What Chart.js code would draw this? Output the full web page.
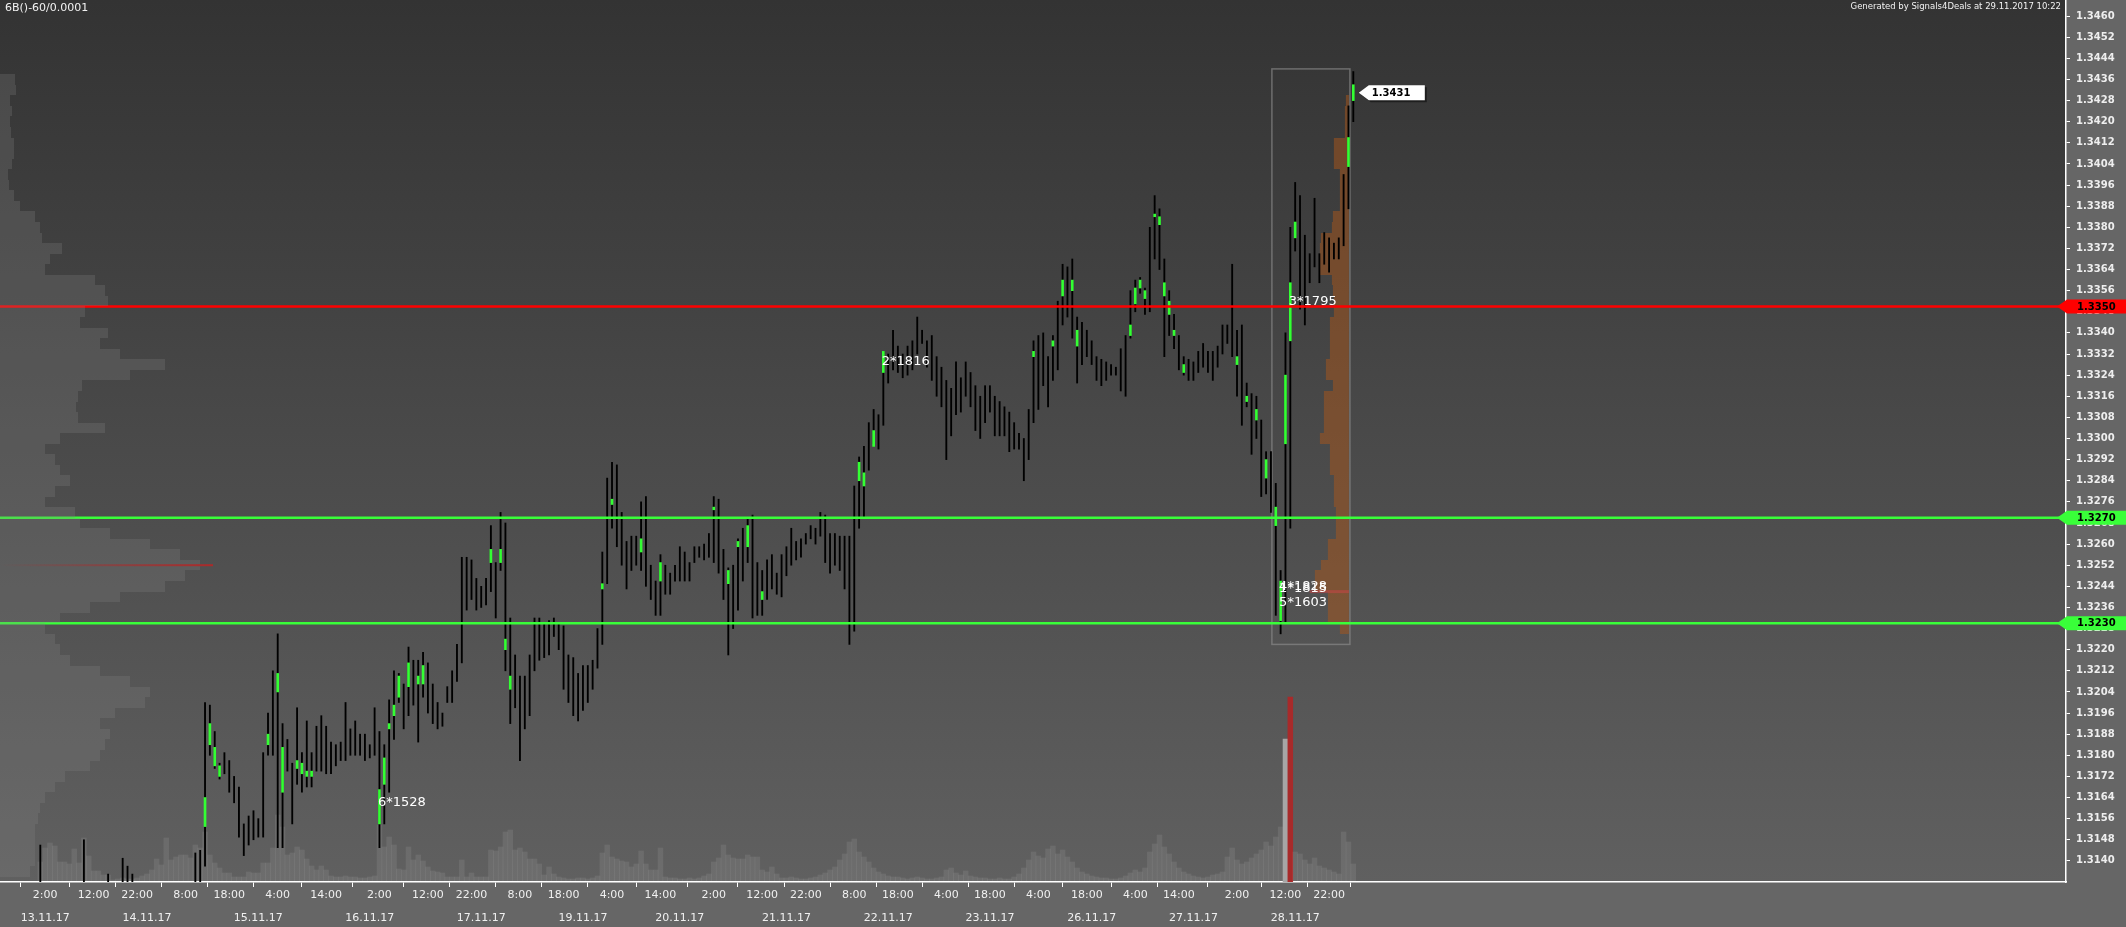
<!DOCTYPE html>
<html>
<head>
<meta charset="utf-8">
<script src="https://cdn.jsdelivr.net/npm/chart.js@4.4.0/dist/chart.umd.min.js"></script>
<style>
  html,body{margin:0;padding:0;background:#666;overflow:hidden}
  canvas{display:block}
</style>
</head>
<body>
<canvas id="chart" width="2126" height="927"></canvas>
<script>
// 6B hourly bars, 13.11.17 - 28.11.17 (bar index = hour bar)
const hi = [
  1.3146,null,null,null,null,null,null,null,null,1.3148,
  null,null,null,null,1.3135,null,null,1.3141,1.3138,1.3135,
  null,null,null,null,null,null,null,null,null,null,
  null,null,1.3143,1.3144,1.3200,1.3199,1.3189,1.3177,1.3181,1.3178,
  1.3172,1.3168,1.3154,1.3157,1.3159,1.3156,1.3181,1.3196,1.3212,1.3226,
  1.3192,1.3186,1.3177,1.3198,1.3181,1.3193,1.3181,1.3191,1.3195,1.3191,
  1.3185,1.3184,1.3185,1.3200,1.3190,1.3193,1.3188,1.3188,1.3184,1.3198,
  1.3189,1.3184,1.3201,1.3212,1.3211,1.3207,1.3221,1.3216,1.3216,1.3219,
  1.3215,1.3207,1.3200,1.3196,1.3206,1.3212,1.3222,1.3255,1.3255,1.3254,
  1.3247,1.3244,1.3247,1.3267,1.3253,1.3272,1.3268,1.3232,1.3218,1.3210,
  1.3210,1.3218,1.3232,1.3232,1.3230,1.3231,1.3232,1.3230,1.3229,1.3218,
  1.3217,1.3211,1.3214,1.3214,1.3216,1.3228,1.3257,1.3285,1.3291,1.3290,
  1.3272,1.3261,1.3263,1.3263,1.3276,1.3278,1.3252,1.3246,1.3256,1.3252,
  1.3249,1.3252,1.3259,1.3257,1.3253,1.3259,1.3259,1.3260,1.3264,1.3278,
  1.3277,1.3258,1.3251,1.3252,1.3262,1.3266,1.3270,1.3271,1.3253,1.3250,
  1.3254,1.3256,1.3249,1.3256,1.3259,1.3266,1.3261,1.3262,1.3264,1.3267,
  1.3266,1.3272,1.3271,1.3264,1.3264,1.3263,1.3263,1.3263,1.3282,1.3293,
  1.3297,1.3306,1.3311,1.3309,1.3333,1.3332,1.3341,1.3335,1.3332,1.3335,
  1.3337,1.3346,1.3341,1.3337,1.3339,1.3331,1.3327,1.3322,1.3319,1.3329,
  1.3323,1.3329,1.3325,1.3320,1.3316,1.3320,1.3320,1.3316,1.3314,1.3312,
  1.3310,1.3306,1.3302,1.3300,1.3311,1.3337,1.3339,1.3340,1.3331,1.3339,
  1.3352,1.3366,1.3365,1.3368,1.3346,1.3344,1.3341,1.3337,1.3331,1.3330,
  1.3329,1.3328,1.3327,1.3334,1.3339,1.3356,1.3360,1.3361,1.3357,1.3380,
  1.3392,1.3387,1.3368,1.3356,1.3347,1.3339,1.3331,1.3330,1.3329,1.3333,
  1.3336,1.3333,1.3333,1.3335,1.3343,1.3343,1.3366,1.3341,1.3343,1.3321,
  1.3317,1.3316,1.3307,1.3295,1.3295,1.3283,1.3250,1.3340,1.3380,1.3397,
  1.3392,1.3377,1.3370,1.3391,1.3370,1.3378,1.3376,1.3374,1.3376,1.3400,
  1.3426,1.3439
];
const lo = [
  1.3128,null,null,null,null,null,null,null,null,1.3128,
  null,null,null,null,1.3128,null,null,1.3128,1.3128,1.3128,
  null,null,null,null,null,null,null,null,null,null,
  null,null,1.3128,1.3128,1.3138,1.3180,1.3175,1.3171,1.3173,1.3166,
  1.3162,1.3149,1.3142,1.3146,1.3148,1.3149,1.3149,1.3180,1.3180,1.3145,
  1.3145,1.3174,1.3154,1.3169,1.3166,1.3168,1.3168,1.3174,1.3174,1.3173,
  1.3173,1.3176,1.3178,1.3178,1.3180,1.3180,1.3180,1.3178,1.3179,1.3180,
  1.3145,1.3154,1.3166,1.3186,1.3200,1.3190,1.3195,1.3199,1.3185,1.3202,
  1.3196,1.3192,1.3190,1.3191,1.3200,1.3200,1.3208,1.3215,1.3235,1.3239,
  1.3235,1.3236,1.3237,1.3242,1.3232,1.3250,1.3212,1.3192,1.3198,1.3178,
  1.3190,1.3195,1.3212,1.3216,1.3217,1.3218,1.3225,1.3220,1.3205,1.3200,
  1.3195,1.3193,1.3197,1.3200,1.3205,1.3213,1.3222,1.3245,1.3266,1.3259,
  1.3252,1.3243,1.3250,1.3252,1.3250,1.3244,1.3239,1.3233,1.3233,1.3241,
  1.3241,1.3246,1.3246,1.3246,1.3246,1.3253,1.3255,1.3254,1.3255,1.3253,
  1.3249,1.3239,1.3218,1.3228,1.3235,1.3246,1.3253,1.3232,1.3233,1.3233,
  1.3239,1.3243,1.3241,1.3240,1.3248,1.3252,1.3254,1.3255,1.3260,1.3262,
  1.3260,1.3263,1.3253,1.3249,1.3252,1.3250,1.3243,1.3222,1.3227,1.3266,
  1.3270,1.3288,1.3298,1.3296,1.3305,1.3321,1.3326,1.3325,1.3323,1.3324,
  1.3326,1.3332,1.3336,1.3327,1.3322,1.3316,1.3312,1.3292,1.3301,1.3309,
  1.3310,1.3316,1.3312,1.3303,1.3300,1.3306,1.3310,1.3301,1.3301,1.3301,
  1.3295,1.3296,1.3296,1.3284,1.3292,1.3306,1.3311,1.3320,1.3312,1.3322,
  1.3326,1.3343,1.3346,1.3338,1.3321,1.3328,1.3331,1.3328,1.3322,1.3320,
  1.3322,1.3324,1.3324,1.3318,1.3316,1.3338,1.3348,1.3355,1.3347,1.3348,
  1.3368,1.3364,1.3331,1.3339,1.3334,1.3326,1.3324,1.3322,1.3322,1.3325,
  1.3327,1.3325,1.3322,1.3327,1.3332,1.3336,1.3331,1.3316,1.3305,1.3312,
  1.3294,1.3300,1.3278,1.3279,1.3272,1.3233,1.3226,1.3230,1.3266,1.3371,
  1.3349,1.3343,1.3359,1.3365,1.3359,1.3366,1.3363,1.3368,1.3368,1.3373,
  1.3387,1.3420
];
const vol = [
  1000,1700,1950,1800,1000,1000,900,1650,950,2200,
  1300,550,550,350,350,100,150,200,150,150,
  200,300,400,600,1150,850,2200,1100,1250,1350,
  1350,1200,1850,1700,2500,1350,950,700,450,450,
  250,250,250,500,450,450,950,950,1700,3350,
  2750,1350,1450,1750,1600,1150,800,600,800,600,
  300,250,250,300,250,250,200,200,250,300,
  2850,1750,2250,1850,650,600,1750,1100,1350,1050,
  750,550,500,450,250,250,250,1100,250,450,
  250,250,250,1600,1550,1750,2500,2600,1600,1700,
  1500,1150,1150,900,350,750,400,250,200,150,
  150,200,200,150,200,300,1450,1850,1250,1150,
  1050,1000,750,900,1550,900,600,600,1700,250,
  200,200,150,150,200,150,200,300,400,1000,
  1200,1850,1350,1200,1150,1150,1350,1250,1250,600,
  500,750,400,200,200,250,200,150,150,200,
  250,350,450,600,750,1100,1400,2000,2150,1500,
  1250,1000,700,500,400,300,250,250,200,150,
  200,250,200,150,150,200,250,600,700,450,
  350,550,300,250,200,200,150,150,200,150,
  150,250,400,700,1100,1500,1300,1200,1650,1800,
  1400,1600,1250,1000,700,500,400,300,250,200,
  200,150,150,200,300,450,600,500,700,1500,
  1900,2350,1750,1400,1000,700,500,400,300,250,
  200,250,350,400,500,1250,1700,1100,900,1000,
  1200,1400,1600,2000,1800,2250,2750,7150,9250,1500,
  1400,1100,900,1200,800,700,600,500,400,2500,
  2000,900
];
const maxVolBar = 258, bigVolBar = 257;

// green cluster marks inside bars
const gIdx = [34,35,36,37,47,49,50,53,54,55,56,70,71,72,73,74,76,78,79,93,95,96,97,
  116,118,124,128,139,142,144,146,149,169,170,172,174,205,209,211,213,214,
  225,226,227,228,230,231,232,233,234,236,247,249,251,253,255,256,257,258,259,270,271];
const gHi = [1.3164,1.3192,1.3183,1.3176,1.3188,1.3211,1.3183,1.3178,1.3177,1.3174,1.3174,1.3167,1.3179,1.3192,1.3199,1.3210,1.3215,1.3210,1.3214,1.3258,1.3258,1.3224,1.3210,
  1.3245,1.3277,1.3262,1.3253,1.3274,1.3250,1.3261,1.3267,1.3242,1.3291,1.3287,1.3303,1.3333,1.3333,1.3337,1.3360,1.3360,1.3341,
  1.3343,1.3357,1.3360,1.3356,1.3385,1.3384,1.3359,1.3352,1.3341,1.3328,1.3331,1.3316,1.3311,1.3292,1.3274,1.3246,1.3324,1.3359,1.3382,1.3414,1.3434];
const gLo = [1.3153,1.3184,1.3176,1.3172,1.3184,1.3204,1.3166,1.3175,1.3173,1.3172,1.3172,1.3154,1.3169,1.3190,1.3195,1.3202,1.3206,1.3207,1.3207,1.3253,1.3253,1.3220,1.3205,
  1.3243,1.3275,1.3257,1.3246,1.3273,1.3245,1.3259,1.3259,1.3239,1.3284,1.3282,1.3297,1.3325,1.3331,1.3335,1.3354,1.3356,1.3335,
  1.3339,1.3351,1.3357,1.3353,1.3384,1.3381,1.3354,1.3347,1.3339,1.3325,1.3328,1.3314,1.3307,1.3285,1.3267,1.3231,1.3298,1.3337,1.3376,1.3403,1.3428];

// whole-period volume profile (left), rows of 0.0004
const profPrice = [1.3436,1.3432,1.3428,1.3424,1.3420,1.3416,1.3412,1.3408,1.3404,1.3400,1.3396,1.3392,1.3388,1.3384,1.3380,1.3376,
  1.3372,1.3368,1.3364,1.3360,1.3356,1.3352,1.3348,1.3344,1.3340,1.3336,1.3332,1.3328,1.3324,1.3320,1.3316,1.3312,1.3308,1.3304,
  1.3300,1.3296,1.3292,1.3288,1.3284,1.3280,1.3276,1.3272,1.3268,1.3264,1.3260,1.3256,1.3252,1.3248,1.3244,1.3240,1.3236,1.3232,
  1.3228,1.3224,1.3220,1.3216,1.3212,1.3208,1.3204,1.3200,1.3196,1.3192,1.3188,1.3184,1.3180,1.3176,1.3172,1.3168,1.3164,1.3160,
  1.3156,1.3152,1.3148,1.3144,1.3140,1.3136];
const profVol = [150,160,100,120,100,110,140,140,120,80,90,140,200,350,400,420,
  620,500,450,950,1050,1080,850,800,1080,1000,1200,1650,1300,820,780,760,780,1050,
  600,450,550,600,700,550,450,750,800,1100,1500,1800,2000,1850,1650,1200,900,600,
  450,550,600,700,1000,1300,1500,1450,1150,1000,1100,1050,1000,900,650,550,450,400,
  380,350,350,350,350,300];
const profPoc = 1.3252, profPocVol = 2130;

// last session profile (orange, inside box)
const boxX = [254.2, 270.3], boxP = [1.3440, 1.3222];
const sessPrice = [1.3428,1.3424,1.3420,1.3416,1.3412,1.3408,1.3404,1.3400,1.3396,1.3392,1.3388,1.3384,1.3380,1.3376,1.3372,1.3368,
  1.3364,1.3360,1.3356,1.3352,1.3348,1.3344,1.3340,1.3336,1.3332,1.3328,1.3324,1.3320,1.3316,1.3312,1.3308,1.3304,1.3300,1.3296,
  1.3292,1.3288,1.3284,1.3280,1.3276,1.3272,1.3268,1.3264,1.3260,1.3256,1.3252,1.3248,1.3244,1.3240,1.3236,1.3232,1.3228];
const sessVol = [30,40,40,40,150,150,150,90,90,90,90,160,170,280,290,290,
  290,170,160,150,150,190,190,190,190,230,230,160,250,250,250,250,290,190,
  190,190,150,150,150,130,130,130,210,210,280,340,340,210,210,210,90];
const sessPoc = 1.3242;

// levels and marks
const levels = [1.3350, 1.3270, 1.3230];
const levelColors = ['#ff0000', '#39ff39', '#39ff39'];
const lastPrice = 1.3431;
const noteIdx = [174, 70, 258, 256, 256, 256];
const notePrice = [1.3329, 1.3162, 1.3352, 1.3244, 1.3243, 1.3238];
const noteText = ['2*1816', '6*1528', '3*1795', '4*1828', '1*1815', '5*1603'];

// axes
const priceTicks = [1.3140,1.3148,1.3156,1.3164,1.3172,1.3180,1.3188,1.3196,1.3204,1.3212,1.3220,1.3228,1.3236,1.3244,
  1.3252,1.3260,1.3268,1.3276,1.3284,1.3292,1.3300,1.3308,1.3316,1.3324,1.3332,1.3340,1.3348,1.3356,1.3364,1.3372,1.3380,
  1.3388,1.3396,1.3404,1.3412,1.3420,1.3428,1.3436,1.3444,1.3452,1.3460];
const timeTicks = [1,11,20,30,39,49,59,70,80,89,99,108,118,128,139,149,158,168,177,187,196,206,216,226,235,247,257,266];
const timeLabels = ['2:00','12:00','22:00','8:00','18:00','4:00','14:00','2:00','12:00','22:00','8:00','18:00','4:00','14:00',
  '2:00','12:00','22:00','8:00','18:00','4:00','18:00','4:00','18:00','4:00','14:00','2:00','12:00','22:00'];
const dateTicks = [1,22,45,68,91,112,132,154,175,196,217,238,259];
const dateLabels = ['13.11.17','14.11.17','15.11.17','16.11.17','17.11.17','19.11.17','20.11.17','21.11.17','22.11.17',
  '23.11.17','26.11.17','27.11.17','28.11.17'];

const X_MIN = -8.318, X_MAX = 418.1;
const Y_MIN = 1.3132, Y_MAX = 1.34661;
const PROF_MAX = 20660;
const FONT = "'DejaVu Sans', Verdana, sans-serif";

const wickData = [];
hi.forEach((h, i) => { if (h != null) wickData.push({x: i, y: [lo[i], h]}); });
const volData = vol.map((v, i) => ({x: i, y: v}));
const volColors = vol.map((v, i) => i === maxVolBar ? '#a82a2a' : i === bigVolBar ? '#a6a6a6' : 'rgba(255,255,255,0.085)');
const greenData = gIdx.map((x, k) => ({x: x, y: [gLo[k], gHi[k]]}));

function noPad(s){ s.paddingTop = 0; s.paddingBottom = 0; s.paddingLeft = 0; s.paddingRight = 0; }

const overlay = {
  id: 'overlay',
  beforeDraw(chart){
    const c = chart.ctx, a = chart.chartArea;
    c.save();
    c.fillStyle = '#666';
    c.fillRect(0, 0, chart.width, chart.height);
    const g = c.createLinearGradient(0, a.top, 0, a.bottom);
    g.addColorStop(0, '#333333');
    g.addColorStop(1, '#606060');
    c.fillStyle = g;
    c.fillRect(a.left, a.top, a.right - a.left, a.bottom - a.top);
    c.restore();
  },
  beforeDatasetsDraw(chart){
    const c = chart.ctx, xs = chart.scales.x, ys = chart.scales.y, xp = chart.scales.xp;
    const x0 = xp.getPixelForValue(0);
    const right = xs.getPixelForValue(boxX[1]) - 1;
    c.save();
    c.fillStyle = 'rgba(170,85,25,0.5)';
    sessPrice.forEach((p, k) => {
      const y1 = Math.round(ys.getPixelForValue(p + 0.0002)), y2 = Math.round(ys.getPixelForValue(p - 0.0002));
      const w = xp.getPixelForValue(sessVol[k]) - x0;
      c.fillRect(right - w, y1, w, y2 - y1);
    });
    // session POC
    const py = ys.getPixelForValue(sessPoc);
    c.fillStyle = 'rgba(200,70,70,0.55)';
    c.fillRect(xs.getPixelForValue(262), py - 1.5, right - xs.getPixelForValue(262), 3);
    // box
    c.strokeStyle = 'rgba(140,140,140,0.65)';
    c.lineWidth = 1.5;
    const bx1 = xs.getPixelForValue(boxX[0]), bx2 = xs.getPixelForValue(boxX[1]);
    const by1 = ys.getPixelForValue(boxP[0]), by2 = ys.getPixelForValue(boxP[1]);
    c.strokeRect(bx1, by1, bx2 - bx1, by2 - by1);
    c.restore();
  },
  afterDatasetsDraw(chart){
    const c = chart.ctx, a = chart.chartArea, xs = chart.scales.x, ys = chart.scales.y, xp = chart.scales.xp;
    c.save();
    // level lines
    levels.forEach((p, k) => {
      const y = ys.getPixelForValue(p);
      c.strokeStyle = levelColors[k];
      c.lineWidth = 2.5;
      c.beginPath(); c.moveTo(a.left, y); c.lineTo(a.right, y); c.stroke();
    });
    // left profile
    const x0 = xp.getPixelForValue(0);
    c.fillStyle = 'rgba(132,132,132,0.26)';
    profPrice.forEach((p, k) => {
      const y1 = Math.round(ys.getPixelForValue(p + 0.0002)), y2 = Math.round(ys.getPixelForValue(p - 0.0002));
      c.fillRect(x0, y1, xp.getPixelForValue(profVol[k]) - x0, y2 - y1);
    });
    const pocY = ys.getPixelForValue(profPoc), pocX = xp.getPixelForValue(profPocVol);
    const pg = c.createLinearGradient(x0, 0, pocX, 0);
    pg.addColorStop(0, 'rgba(176,40,40,0)');
    pg.addColorStop(1, 'rgba(176,40,40,0.95)');
    c.fillStyle = pg;
    c.fillRect(x0, pocY - 1, pocX - x0, 2);
    // notes
    c.fillStyle = '#ffffff';
    c.font = '13px ' + FONT;
    c.textBaseline = 'middle';
    c.textAlign = 'left';
    noteText.forEach((t, k) => {
      c.fillText(t, xs.getPixelForValue(noteIdx[k]) - 1.5, ys.getPixelForValue(notePrice[k]));
    });
    c.restore();
  },
  afterDraw(chart){
    const c = chart.ctx, a = chart.chartArea, xs = chart.scales.x, ys = chart.scales.y;
    c.save();
    c.font = 'bold 10px ' + FONT;
    c.textBaseline = 'middle';
    c.textAlign = 'left';
    // level tags on price axis
    levels.forEach((p, k) => {
      const y = ys.getPixelForValue(p);
      c.fillStyle = levelColors[k];
      c.beginPath();
      c.moveTo(a.right - 9, y);
      c.lineTo(a.right + 1, y - 7);
      c.lineTo(chart.width, y - 7);
      c.lineTo(chart.width, y + 7);
      c.lineTo(a.right + 1, y + 7);
      c.closePath();
      c.fill();
      c.fillStyle = '#000';
      c.fillText(p.toFixed(4), a.right + 11, y + 0.5);
    });
    // last price tag
    const ly = ys.getPixelForValue(lastPrice), lx = xs.getPixelForValue(lo.length - 1) + 5.5;
    const tag = (dx, dy) => {
      c.beginPath();
      c.moveTo(lx + dx, ly + dy);
      c.lineTo(lx + 10 + dx, ly - 7.5 + dy);
      c.lineTo(lx + 66 + dx, ly - 7.5 + dy);
      c.lineTo(lx + 66 + dx, ly + 7.5 + dy);
      c.lineTo(lx + 10 + dx, ly + 7.5 + dy);
      c.closePath();
      c.fill();
    };
    c.fillStyle = 'rgba(0,0,0,0.45)'; tag(2, 2);
    c.fillStyle = '#ffffff'; tag(0, 0);
    c.fillStyle = '#000';
    c.fillText(lastPrice.toFixed(4), lx + 13, ly + 0.5);
    // header texts
    c.fillStyle = '#f2f2f2';
    c.font = '11px ' + FONT;
    c.fillText('6B()-60/0.0001', 5, 8);
    c.font = '8.5px ' + FONT;
    c.textAlign = 'right';
    c.fillText('Generated by Signals4Deals at 29.11.2017 10:22', a.right - 5, 7);
    c.restore();
  }
};

new Chart(document.getElementById('chart').getContext('2d'), {
  type: 'bar',
  data: {
    datasets: [
      {label: 'Volume', data: volData, yAxisID: 'yv', backgroundColor: volColors, borderWidth: 0,
       barPercentage: 1, categoryPercentage: 1, grouped: false, order: 3},
      {label: 'Range', data: wickData, yAxisID: 'y', backgroundColor: '#000000', borderWidth: 0,
       barThickness: 1.2, grouped: false, order: 2},
      {label: 'Cluster', data: greenData, yAxisID: 'y', backgroundColor: '#33ff33', borderWidth: 0,
       barThickness: 2, minBarLength: 2, grouped: false, order: 1}
    ]
  },
  options: {
    responsive: false,
    devicePixelRatio: 1,
    animation: false,
    layout: {padding: 0},
    plugins: {legend: {display: false}, tooltip: {enabled: false}},
    scales: {
      x: {
        type: 'linear', min: X_MIN, max: X_MAX, offset: false, position: 'bottom', weight: 0,
        afterBuildTicks: s => { s.ticks = timeTicks.map(v => ({value: v})); },
        afterFit: s => { s.height = 20; noPad(s); },
        ticks: {autoSkip: false, maxRotation: 0, color: '#f0f0f0', padding: 2,
                font: {family: FONT, size: 11}, callback: (v, i) => timeLabels[i]},
        grid: {drawOnChartArea: false, color: '#ffffff', tickLength: 5, tickWidth: 1},
        border: {color: '#ffffff', width: 1.5}
      },
      xd: {
        type: 'linear', min: X_MIN, max: X_MAX, offset: false, position: 'bottom', weight: 1,
        afterBuildTicks: s => { s.ticks = dateTicks.map(v => ({value: v})); },
        afterFit: s => { s.height = 25; noPad(s); },
        ticks: {autoSkip: false, maxRotation: 0, color: '#f0f0f0', padding: 2,
                font: {family: FONT, size: 11}, callback: (v, i) => dateLabels[i]},
        grid: {display: false},
        border: {display: false}
      },
      // profile volume scale: zero-height axis spanning the plot width
      xp: {
        type: 'linear', position: 'top', min: 0, max: PROF_MAX, offset: false,
        afterFit: s => { s.height = 0; noPad(s); },
        ticks: {display: false}, grid: {display: false}, border: {display: false}
      },
      y: {
        type: 'linear', position: 'right', min: Y_MIN, max: Y_MAX,
        afterBuildTicks: s => { s.ticks = priceTicks.map(v => ({value: v})); },
        afterFit: s => { s.width = 60; noPad(s); },
        ticks: {color: '#eeeeee', padding: 6, font: {family: FONT, size: 10, weight: 'bold'},
                callback: v => v.toFixed(4)},
        grid: {drawOnChartArea: false, color: '#ffffff', tickLength: 4},
        border: {color: '#ffffff', width: 1.5}
      },
      yv: {type: 'linear', display: false, min: 0, max: 44100, position: 'left'}
    }
  },
  plugins: [overlay]
});
</script>
</body>
</html>
